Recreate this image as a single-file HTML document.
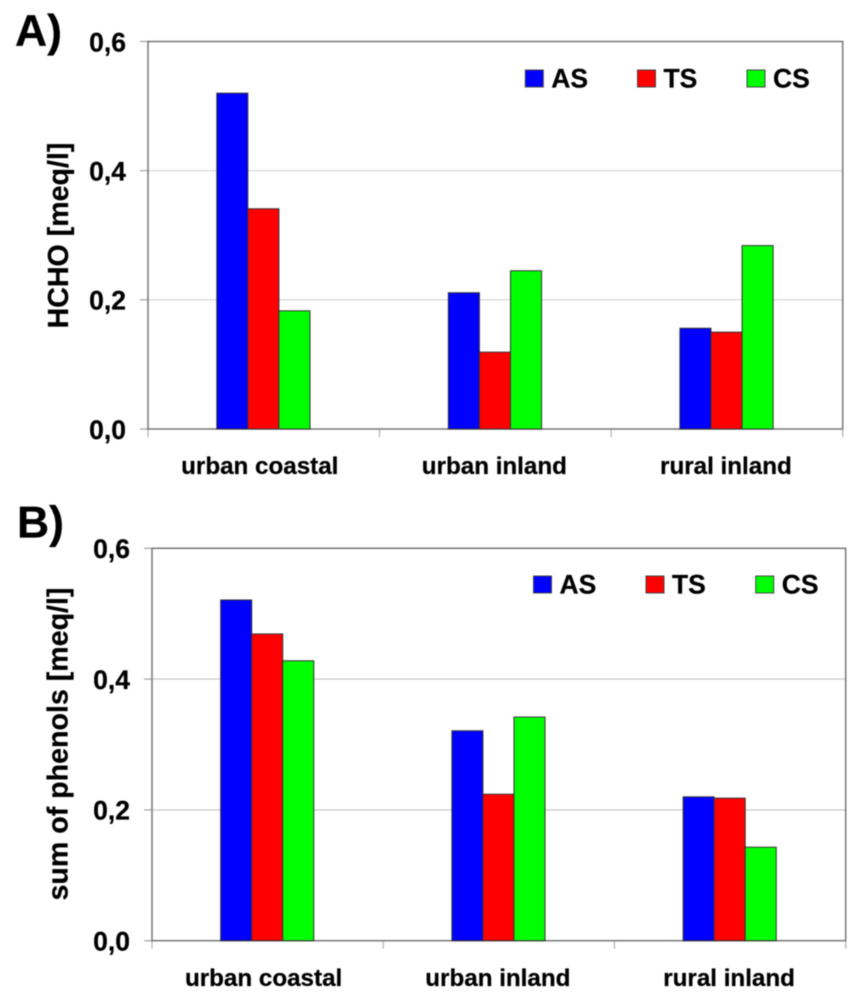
<!DOCTYPE html>
<html lang="en">
<head>
<meta charset="utf-8">
<title>HCHO and sum of phenols by site type</title>
<style>
html,body{margin:0;padding:0;background:#fff;}
#figure{display:block;width:859px;height:1000px;filter:blur(0.55px);font-family:"Liberation Sans",Arial,sans-serif;font-weight:bold;fill:#000;}
#figure text{stroke:#000;stroke-width:0.25px;}
</style>
</head>
<body>
<svg id="figure" xmlns="http://www.w3.org/2000/svg" width="859" height="1000" viewBox="0 0 859 1000"></svg>
<script>
const categories = ['urban coastal', 'urban inland', 'rural inland'];
const seriesNames = ['AS', 'TS', 'CS'];
const seriesColors = ['#0000ff', '#ff0000', '#00ff00'];
const yTicks = [0, 0.2, 0.4, 0.6];
const yTickLabels = ['0,0', '0,2', '0,4', '0,6'];
const hchoAS = [0.520, 0.211, 0.156];
const hchoTS = [0.341, 0.119, 0.150];
const hchoCS = [0.183, 0.245, 0.284];
const phenolsAS = [0.521, 0.321, 0.220];
const phenolsTS = [0.469, 0.224, 0.218];
const phenolsCS = [0.428, 0.342, 0.143];

const svg = document.getElementById('figure');
const NS = 'http://www.w3.org/2000/svg';

function make(tag, attrs, parent) {
  const el = document.createElementNS(NS, tag);
  for (const k in attrs) el.setAttribute(k, attrs[k]);
  parent.appendChild(el);
  return el;
}

function drawPanel(p) {
  const g = make('g', {}, svg);
  
  

  const yScale = v => p.bottom - (v / 0.6) * (p.bottom - p.top);
  const catW = (p.right - p.left) / categories.length;
  const xScale = i => p.left + catW * i;

  const letter = make('text', {x: p.letterX, y: p.letterY, 'font-size': 44.5}, g);
  letter.textContent = p.letter;
  
  

  yTicks.forEach((t, i) => {
    const y = yScale(t);
    if (t > 0 && t < 0.6) {
      const grid = make('line', {x1: p.left, x2: p.right, y1: y, y2: y, stroke: p.gridColor, 'stroke-width': 1.1}, g);
      
      
    }
    const tick = make('line', {x1: p.left - 8, x2: p.left, y1: y, y2: y, stroke: '#999', 'stroke-width': 1.1}, g);
    
    
    const label = make('text', {x: p.left - 22, y: y + 9.8, 'text-anchor': 'end', 'font-size': 26.5}, g);
    label.textContent = yTickLabels[i];
    
    
  });

  for (let i = 0; i <= categories.length; i++) {
    const x = xScale(i);
    const tick = make('line', {x1: x, x2: x, y1: p.bottom, y2: p.bottom + 8, stroke: '#aaa', 'stroke-width': 1.1}, g);
    
    
  }

  const frame = make('rect', {x: p.left, y: p.top, width: p.right - p.left, height: p.bottom - p.top, fill: 'none', stroke: '#777', 'stroke-width': 1.5}, g);
  
  

  const barW = catW / 7.45;
  p.series.forEach((vals, s) => {
    vals.forEach((v, c) => {
      const x = xScale(c) + catW / 2 + (s - 1.5) * barW - 0.4;
      const bar = make('rect', {x: x, y: yScale(v), width: barW, height: p.bottom - yScale(v), fill: seriesColors[s], stroke: '#333', 'stroke-width': 1}, g);
      
      
    });
  });

  categories.forEach((name, c) => {
    const label = make('text', {x: xScale(c) + catW / 2 - p.catShift[c], y: p.catY, 'text-anchor': 'middle', 'font-size': 24.2}, g);
    label.textContent = name;
    
    
  });

  const title = make('text', {x: 0, y: 0, transform: 'translate(' + p.titleX + ',' + p.titleY + ') rotate(-90)', 'text-anchor': 'middle', 'font-size': p.titleSize}, g);
  title.textContent = p.title;
  
  

  seriesNames.forEach((name, s) => {
    const swatch = make('rect', {x: p.legendX[s], y: p.legendY, width: 18, height: 17, fill: seriesColors[s], stroke: '#444', 'stroke-width': 1}, g);
    
    
    const label = make('text', {x: p.legendX[s] + 26, y: p.legendY + 17.5, 'font-size': 26.5}, g);
    label.textContent = name;
    
    
  });
}

drawPanel({
  id: 'hcho', letter: 'A)', letterX: 15, letterY: 46,
  left: 148, right: 842.7, top: 41.5, bottom: 429,
  catY: 474, catShift: [4, 1, 1],
  title: 'HCHO [meq/l]', titleX: 68, titleY: 235.5, titleSize: 28.6,
  gridColor: '#d2d2d2',
  legendX: [525.3, 637.5, 747], legendY: 70,
  series: [hchoAS, hchoTS, hchoCS]
});

drawPanel({
  id: 'phenols', letter: 'B)', letterX: 17, letterY: 537.7,
  left: 152, right: 845.7, top: 548.3, bottom: 940.7,
  catY: 986, catShift: [4, 1, 1],
  title: 'sum of phenols [meq/l]', titleX: 67.7, titleY: 744, titleSize: 28.6,
  gridColor: '#c4c4c4',
  legendX: [533.5, 646, 755.7], legendY: 576,
  series: [phenolsAS, phenolsTS, phenolsCS]
});
</script>
</body>
</html>
